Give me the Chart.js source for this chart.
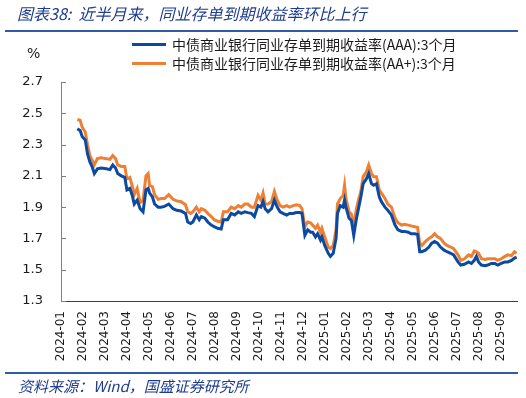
<!DOCTYPE html>
<html>
<head>
<meta charset="utf-8">
<script src="https://cdn.jsdelivr.net/npm/chart.js@4.4.1/dist/chart.umd.min.js"></script>
<style>
    html, body { margin: 0; padding: 0; background: #fff; }
    canvas { display: block; }
</style>
</head>
<body>
<canvas id="doThi" width="526" height="398"></canvas>
<script>
var monthLabels = ['2024-01', '2024-02', '2024-03', '2024-04', '2024-05', '2024-06', '2024-07',
    '2024-08', '2024-09', '2024-10', '2024-11', '2024-12', '2025-01', '2025-02', '2025-03',
    '2025-04', '2025-05', '2025-06', '2025-07', '2025-08', '2025-09'];
var yTicks = [1.3, 1.5, 1.7, 1.9, 2.1, 2.3, 2.5, 2.7];
var seriesNames = ['中债商业银行同业存单到期收益率(AAA):3个月', '中债商业银行同业存单到期收益率(AA+):3个月'];

var dates = [
    '2024-01-24', '2024-01-28', '2024-01-31', '2024-02-04', '2024-02-07', '2024-02-10', '2024-02-13', '2024-02-16', '2024-02-20', '2024-02-25',
    '2024-03-03', '2024-03-08', '2024-03-12', '2024-03-16', '2024-03-19', '2024-03-24', '2024-03-29', '2024-04-01', '2024-04-05', '2024-04-08',
    '2024-04-11', '2024-04-15', '2024-04-19', '2024-04-23', '2024-04-27', '2024-04-30', '2024-05-02', '2024-05-06', '2024-05-09', '2024-05-14',
    '2024-05-18', '2024-05-23', '2024-05-29', '2024-06-04', '2024-06-09', '2024-06-15', '2024-06-21', '2024-06-24', '2024-06-28', '2024-07-01',
    '2024-07-06', '2024-07-10', '2024-07-13', '2024-07-18', '2024-07-22', '2024-07-27', '2024-07-31', '2024-08-05', '2024-08-10', '2024-08-13',
    '2024-08-19', '2024-08-24', '2024-08-29', '2024-09-03', '2024-09-07', '2024-09-12', '2024-09-16', '2024-09-21', '2024-09-25', '2024-09-30',
    '2024-10-04', '2024-10-07', '2024-10-10', '2024-10-14', '2024-10-19', '2024-10-23', '2024-10-27', '2024-10-31', '2024-11-04', '2024-11-09',
    '2024-11-13', '2024-11-18', '2024-11-22', '2024-11-27', '2024-11-30', '2024-12-04', '2024-12-08', '2024-12-12', '2024-12-15', '2024-12-19',
    '2024-12-22', '2024-12-26', '2024-12-28', '2025-01-01', '2025-01-06', '2025-01-09', '2025-01-13', '2025-01-17', '2025-01-19', '2025-01-23',
    '2025-01-27', '2025-01-29', '2025-01-31', '2025-02-04', '2025-02-07', '2025-02-10', '2025-02-13', '2025-02-16', '2025-02-19', '2025-02-22',
    '2025-02-26', '2025-03-01', '2025-03-05', '2025-03-08', '2025-03-12', '2025-03-16', '2025-03-19', '2025-03-24', '2025-03-28', '2025-04-02',
    '2025-04-07', '2025-04-11', '2025-04-16', '2025-04-20', '2025-04-25', '2025-04-29', '2025-05-04', '2025-05-08', '2025-05-11', '2025-05-14',
    '2025-05-19', '2025-05-24', '2025-05-28', '2025-06-01', '2025-06-05', '2025-06-09', '2025-06-14', '2025-06-18', '2025-06-23', '2025-06-27',
    '2025-07-03', '2025-07-07', '2025-07-12', '2025-07-18', '2025-07-22', '2025-07-26', '2025-07-29', '2025-08-01', '2025-08-05', '2025-08-10',
    '2025-08-14', '2025-08-19', '2025-08-24', '2025-08-28', '2025-09-02', '2025-09-07', '2025-09-11', '2025-09-16', '2025-09-20', '2025-09-23'
];

var aaa = [
    2.40, 2.39, 2.35, 2.33, 2.24, 2.19, 2.16, 2.115, 2.145, 2.15,
    2.145, 2.14, 2.17, 2.15, 2.115, 2.10, 2.09, 2.01, 2.02, 1.98,
    1.92, 1.945, 1.89, 1.87, 2.01, 2.02, 1.99, 1.965, 1.92, 1.90,
    1.90, 1.905, 1.92, 1.89, 1.88, 1.875, 1.86, 1.805, 1.795, 1.805,
    1.85, 1.82, 1.84, 1.83, 1.805, 1.785, 1.775, 1.765, 1.76, 1.82,
    1.82, 1.86, 1.85, 1.87, 1.86, 1.87, 1.865, 1.86, 1.84, 1.91,
    1.90, 1.935, 1.89, 1.87, 1.89, 1.945, 1.90, 1.87, 1.86, 1.85,
    1.86, 1.86, 1.865, 1.865, 1.86, 1.72, 1.755, 1.74, 1.74, 1.71,
    1.73, 1.69, 1.71, 1.655, 1.605, 1.585, 1.605, 1.70, 1.86, 1.91,
    1.90, 1.945, 1.90, 1.83, 1.815, 1.72, 1.815, 1.89, 1.965, 2.05,
    2.08, 2.115, 2.05, 2.04, 2.05, 1.965, 1.935, 1.90, 1.88, 1.85,
    1.785, 1.755, 1.745, 1.745, 1.74, 1.73, 1.73, 1.725, 1.615, 1.615,
    1.625, 1.645, 1.67, 1.68, 1.67, 1.645, 1.625, 1.615, 1.605, 1.595,
    1.55, 1.53, 1.535, 1.55, 1.54, 1.56, 1.585, 1.55, 1.53, 1.525,
    1.53, 1.54, 1.54, 1.53, 1.54, 1.55, 1.55, 1.56, 1.575, 1.58
];

var aaPlus = [
    2.46, 2.455, 2.41, 2.38, 2.30, 2.23, 2.20, 2.17, 2.21, 2.215,
    2.21, 2.205, 2.23, 2.21, 2.17, 2.16, 2.16, 2.08, 2.09, 2.04,
    1.98, 2.02, 1.93, 1.945, 2.10, 2.115, 2.04, 2.03, 1.98, 1.95,
    1.955, 1.955, 1.98, 1.95, 1.94, 1.935, 1.915, 1.87, 1.86, 1.87,
    1.90, 1.87, 1.89, 1.88, 1.86, 1.84, 1.82, 1.81, 1.805, 1.87,
    1.87, 1.90, 1.89, 1.91, 1.90, 1.92, 1.92, 1.90, 1.90, 1.975,
    1.945, 1.99, 1.92, 1.92, 1.935, 2.00, 1.945, 1.91, 1.90, 1.91,
    1.90, 1.91, 1.915, 1.91, 1.89, 1.775, 1.805, 1.80, 1.785, 1.765,
    1.785, 1.74, 1.765, 1.71, 1.645, 1.635, 1.655, 1.755, 1.92, 1.955,
    1.975, 2.04, 1.955, 1.87, 1.855, 1.78, 1.88, 1.945, 2.00, 2.095,
    2.125, 2.17, 2.115, 2.095, 2.095, 2.01, 1.99, 1.955, 1.92, 1.90,
    1.83, 1.80, 1.785, 1.79, 1.785, 1.78, 1.775, 1.77, 1.67, 1.655,
    1.68, 1.70, 1.71, 1.73, 1.71, 1.70, 1.67, 1.655, 1.645, 1.635,
    1.595, 1.56, 1.57, 1.595, 1.585, 1.62, 1.615, 1.605, 1.57, 1.565,
    1.57, 1.57, 1.57, 1.56, 1.57, 1.585, 1.595, 1.59, 1.615, 1.605
];

var TITLE_TEXT = '图表38:  近半月来，同业存单到期收益率环比上行';
var SOURCE_TEXT = '资料来源：Wind，国盛证券研究所';
var MAU_TIEU_DE = '#1f3d8f';

// đổi ngày 'yyyy-mm-dd' sang chỉ số tháng (tính từ 2024-01)
function toMonthIndex(s) {
    var p = s.split('-');
    var y = +p[0], m = +p[1], d = +p[2];
    var dim = new Date(y, m, 0).getDate();
    return (y - 2024) * 12 + (m - 1) + (d - 1) / dim;
}

function buildPoints(values) {
    return values.map(function (v, i) {
        return { x: toMonthIndex(dates[i]), y: v };
    });
}

var khungPlugin = {
    id: 'khung',
    afterDraw: function (chart) {
        var ctx = chart.ctx;
        ctx.save();

        // tiêu đề + đường kẻ
        ctx.fillStyle = MAU_TIEU_DE;
        ctx.font = 'italic 16px "Noto Sans CJK SC"';
        ctx.textBaseline = 'middle';
        ctx.textAlign = 'left';
        ctx.fillText(TITLE_TEXT, 17, 14);
        ctx.fillStyle = '#2f5ba8';
        ctx.fillRect(5, 30, 513, 2);
        ctx.fillRect(5, 372, 513, 2);

        ctx.fillStyle = MAU_TIEU_DE;
        ctx.font = 'italic 15px "Noto Sans CJK SC"';
        ctx.fillText(SOURCE_TEXT, 18, 386);

        // đơn vị
        ctx.fillStyle = '#1a1a1a';
        ctx.font = '14px "DejaVu Sans"';
        ctx.fillText('%', 27, 54);

        // chú thích
        var rows = [44.5, 63.5];
        chart.data.datasets.forEach(function (ds, i) {
            ctx.strokeStyle = ds.borderColor;
            ctx.lineWidth = 3;
            ctx.beginPath();
            ctx.moveTo(132, rows[i]);
            ctx.lineTo(166, rows[i]);
            ctx.stroke();
            ctx.fillStyle = '#1a1a1a';
            ctx.font = '14px "Noto Sans CJK SC"';
            ctx.fillText(ds.label, 172, rows[i] + 0.5);
        });

        // vạch chia trục y hướng vào trong
        var sy = chart.scales.y;
        ctx.strokeStyle = '#808080';
        ctx.lineWidth = 1;
        yTicks.forEach(function (v) {
            var py = Math.round(sy.getPixelForValue(v)) + 0.5;
            ctx.beginPath();
            ctx.moveTo(sy.right, py);
            ctx.lineTo(sy.right + 5, py);
            ctx.stroke();
        });
        ctx.restore();
    }
};

function renderDoThi() {
    var ctx = document.getElementById('doThi').getContext('2d');
    new Chart(ctx, {
        type: 'line',
        data: {
            datasets: [{
                label: seriesNames[0],
                data: buildPoints(aaa),
                borderColor: '#0b4aa0',
                borderWidth: 3,
                pointRadius: 0,
                tension: 0
            }, {
                label: seriesNames[1],
                data: buildPoints(aaPlus),
                borderColor: '#ef7f33',
                borderWidth: 3,
                pointRadius: 0,
                tension: 0
            }]
        },
        options: {
            responsive: false,
            animation: false,
            devicePixelRatio: 1,
            layout: { padding: { top: 82, right: 9, bottom: 0, left: 0 } },
            plugins: {
                legend: { display: false },
                tooltip: { enabled: false }
            },
            scales: {
                x: {
                    type: 'linear',
                    min: 0,
                    max: 20.75,
                    grid: { display: false, drawTicks: false },
                    border: { display: true, color: '#404040', width: 1 },
                    afterBuildTicks: function (scale) {
                        scale.ticks = monthLabels.map(function (l, i) { return { value: i }; });
                    },
                    afterFit: function (scale) { scale.height = 97; },
                    ticks: {
                        autoSkip: false,
                        minRotation: 90,
                        maxRotation: 90,
                        padding: 10,
                        color: '#1a1a1a',
                        font: { family: 'DejaVu Sans', size: 12 },
                        callback: function (value) { return monthLabels[value]; }
                    }
                },
                y: {
                    min: 1.3,
                    max: 2.7,
                    grid: { display: false, drawTicks: false },
                    border: { display: true, color: '#808080', width: 1 },
                    afterBuildTicks: function (scale) {
                        scale.ticks = yTicks.map(function (v) { return { value: v }; });
                    },
                    afterFit: function (scale) { scale.width = 61; },
                    ticks: {
                        padding: 18,
                        color: '#1a1a1a',
                        font: { family: 'DejaVu Sans', size: 13 },
                        callback: function (value) { return value.toFixed(1); }
                    }
                }
            }
        },
        plugins: [khungPlugin]
    });
}

renderDoThi();
</script>
</body>
</html>
